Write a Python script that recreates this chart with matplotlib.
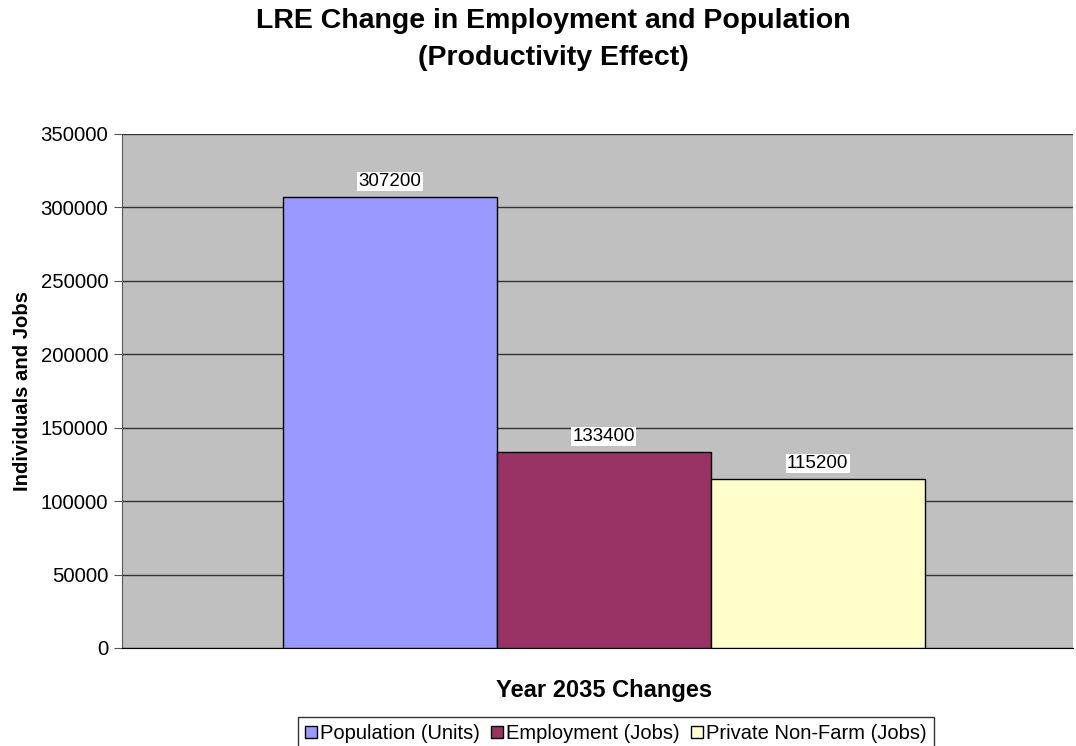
import matplotlib.pyplot as plt
import numpy as np

plt.rcParams['font.family'] = ['Liberation Sans', 'DejaVu Sans']

# Year 2035 changes (productivity effect)
series = ['Population (Units)', 'Employment (Jobs)', 'Private Non-Farm (Jobs)']
values = [307200, 133400, 115200]
colors = ['#9999FF', '#993366', '#FFFFCC']
yticks = [0, 50000, 100000, 150000, 200000, 250000, 300000, 350000]

fig = plt.figure(figsize=(10.76, 7.46), dpi=100)
ax = fig.add_axes([0.1134, 0.1314, 0.8836, 0.689])
ax.set_facecolor('#C0C0C0')

offsets = np.arange(len(series)) - 1
bars = ax.bar(offsets, values, width=1.0, color=colors, edgecolor='black',
              linewidth=1.0, label=series, zorder=3)

for x, v in zip(offsets, values):
    ax.annotate(str(v), (x, v), xytext=(0, 5), textcoords='offset points',
                ha='center', va='bottom', fontsize=13.5,
                bbox=dict(facecolor='white', edgecolor='none', pad=1.0))

ax.set_xlim(-2.252, 2.192)
ax.set_ylim(0, 350000)
ax.set_yticks(yticks)
ax.set_yticklabels([str(t) for t in yticks], fontsize=14.7)
ax.set_xticks([])
ax.yaxis.grid(True, color='#333333', linewidth=1.0, zorder=0)
ax.set_axisbelow(True)
ax.tick_params(axis='y', direction='out', length=6, color='#555555', pad=4)

for side in ['top', 'right']:
    ax.spines[side].set_visible(False)
ax.spines['left'].set_color('#555555')
ax.spines['bottom'].set_color('black')

ax.set_ylabel('Individuals and Jobs', fontsize=14.6, fontweight='bold', labelpad=6)
ax.set_xlabel('Year 2035 Changes', fontsize=17, fontweight='bold', labelpad=22, x=0.507)

fig.text(0.514, 0.9464, 'LRE Change in Employment and Population\n(Productivity Effect)',
         ha='center', va='center', fontsize=20.5, fontweight='bold', linespacing=1.55)

leg = fig.legend(handles=bars, labels=series, loc='upper center',
                 bbox_to_anchor=(0.5725, 0.0389), ncol=3, fontsize=14.5,
                 frameon=True, fancybox=False, edgecolor='black',
                 handlelength=0.6, handleheight=0.6, handletextpad=0.15,
                 columnspacing=0.55, borderpad=0.35, borderaxespad=0)
leg.get_frame().set_linewidth(1.0)

fig.savefig('out.png', dpi=100)
